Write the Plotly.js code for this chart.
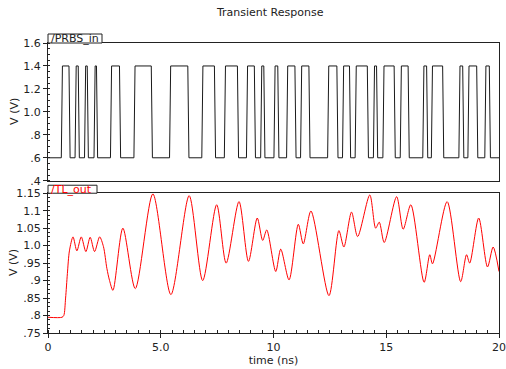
<!DOCTYPE html>
<html><head>
<script src="https://cdn.plot.ly/plotly-3.0.1.min.js"></script>
<style>body{margin:0;background:#fff}</style>
</head><body>
<div id="c" style="width:506px;height:369px"></div>
<script>
// PRBS input: high pulses (rise time, fall time) in ns
const prbsRise = [0.59, 1.20, 1.62, 2.04, 2.77, 3.81, 5.39, 6.82, 7.82, 8.80, 9.43, 10.02, 10.58, 11.20, 12.40, 13.06, 13.62, 14.43, 14.85, 15.62, 16.62, 17.00, 18.22, 18.62, 19.37];
const prbsFall = [0.98, 1.39, 1.79, 2.20, 3.22, 4.63, 6.25, 7.43, 8.45, 9.20, 9.62, 10.24, 11.00, 11.62, 12.86, 13.42, 14.21, 14.62, 15.40, 16.02, 16.84, 17.55, 18.44, 19.06, 19.62];
const lowV = 0.6, highV = 1.4, edge = 0.05;

// TL output waveform
const outTime = [0, 0.62, 0.70, 0.78, 0.86, 0.95, 1.11, 1.28, 1.475, 1.68, 1.87, 2.065, 2.29, 2.46, 2.61, 2.73, 2.88, 3.32, 3.87, 4.65, 5.45, 6.26, 6.86, 7.48, 7.90, 8.47, 8.89, 9.28, 9.52, 9.70, 10.10, 10.32, 10.69, 11.10, 11.32, 11.66, 12.46, 12.90, 13.12, 13.46, 13.73, 14.27, 14.53, 14.69, 14.91, 15.46, 15.75, 16.09, 16.68, 16.93, 17.05, 17.70, 18.30, 18.56, 18.70, 19.10, 19.49, 19.74, 20.0];
const outVolt = [0.795, 0.795, 0.80, 0.85, 0.92, 0.985, 1.025, 0.985, 1.025, 0.983, 1.024, 0.983, 1.025, 0.997, 0.935, 0.90, 0.872, 1.05, 0.877, 1.148, 0.860, 1.143, 0.900, 1.117, 0.950, 1.126, 0.955, 1.079, 1.015, 1.045, 0.926, 0.99, 0.902, 1.061, 1.005, 1.099, 0.857, 1.043, 0.996, 1.096, 1.026, 1.145, 1.05, 1.067, 1.009, 1.14, 1.047, 1.117, 0.895, 0.974, 0.948, 1.126, 0.897, 0.974, 0.95, 1.079, 0.939, 0.996, 0.926];

const xTickVals = [0, 5, 10, 15, 20];
const xTickText = ['0', '5.0', '10', '15', '20'];
const topTickVals = [0.4, 0.6, 0.8, 1.0, 1.2, 1.4, 1.6];
const topTickText = ['.4', '.6', '.8', '1.0', '1.2', '1.4', '1.6'];
const botTickVals = [0.75, 0.8, 0.85, 0.9, 0.95, 1.0, 1.05, 1.1, 1.15];
const botTickText = ['.75', '.8', '.85', '.9', '.95', '1.0', '1.05', '1.1', '1.15'];

// build PWL for PRBS
const pt = [0], pv = [lowV];
for (let i = 0; i < prbsRise.length; i++) {
  pt.push(prbsRise[i]); pv.push(lowV);
  pt.push(prbsRise[i] + edge); pv.push(highV);
  pt.push(prbsFall[i] - edge); pv.push(highV);
  pt.push(prbsFall[i]); pv.push(lowV);
}
pt.push(20); pv.push(lowV);

const axCol = '#222';
const data = [
  {x: pt, y: pv, xaxis: 'x2', yaxis: 'y2', mode: 'lines', line: {color: '#1a1a1a', width: 1}, hoverinfo: 'skip'},
  {x: outTime, y: outVolt, xaxis: 'x', yaxis: 'y', mode: 'lines', line: {color: '#ff0000', width: 1, shape: 'spline', smoothing: 0.8}, hoverinfo: 'skip'}
];

const common = {showline: true, mirror: true, linecolor: axCol, linewidth: 1, showgrid: false, zeroline: false};
const layout = {
  width: 506, height: 369,
  margin: {l: 48, r: 7, t: 43, b: 36},
  paper_bgcolor: '#fff', plot_bgcolor: '#fff', showlegend: false,
  font: {family: 'DejaVu Sans', size: 11, color: '#222'},
  title: {text: 'Transient Response', xref: 'container', x: 0.534, xanchor: 'center', yref: 'container', y: 0.966, yanchor: 'middle', font: {size: 11, color: '#222'}},
  xaxis: Object.assign({}, common, {anchor: 'y', domain: [0, 1], range: [0, 20], tickvals: xTickVals, ticktext: xTickText, ticks: 'outside', ticklen: 4, tickcolor: axCol,
    minor: {ticks: 'inside', dtick: 0.5, ticklen: 3, tickcolor: axCol, showgrid: false},
    title: {text: 'time (ns)', standoff: 2, font: {size: 11}}}),
  xaxis2: Object.assign({}, common, {anchor: 'y2', domain: [0, 1], range: [0, 20], matches: 'x', showticklabels: false, ticks: ''}),
  yaxis: Object.assign({}, common, {anchor: 'x', domain: [0, 0.482], range: [0.75, 1.15], tickvals: botTickVals, ticktext: botTickText, ticks: 'outside', ticklen: 4, tickcolor: axCol,
    minor: {ticks: 'inside', dtick: 0.0125, ticklen: 2, tickcolor: axCol, showgrid: false}}),
  yaxis2: Object.assign({}, common, {anchor: 'x2', domain: [0.525, 1], range: [0.4, 1.6], tickvals: topTickVals, ticktext: topTickText, ticks: 'outside', ticklen: 4, tickcolor: axCol,
    minor: {ticks: 'inside', dtick: 0.05, ticklen: 2, tickcolor: axCol, showgrid: false}}),
  shapes: [
    {type: 'rect', xref: 'paper', xsizemode: 'pixel', xanchor: 0, x0: 0, x1: 54, yref: 'y2 domain', ysizemode: 'pixel', yanchor: 1, y0: 0, y1: 9, line: {color: axCol, width: 1}, fillcolor: '#fff', layer: 'above'},
    {type: 'rect', xref: 'paper', xsizemode: 'pixel', xanchor: 0, x0: 0, x1: 49, yref: 'y domain', ysizemode: 'pixel', yanchor: 1, y0: 0, y1: 8, line: {color: axCol, width: 1}, fillcolor: '#fff', layer: 'above'}
  ],
  annotations: [
    {text: '/PRBS_in', xref: 'paper', x: 0, xanchor: 'left', xshift: 1, yref: 'y2 domain', y: 1, yanchor: 'middle', yshift: 5, showarrow: false, font: {size: 11, color: '#222'}},
    {text: '/TL_out', xref: 'paper', x: 0, xanchor: 'left', xshift: 1, yref: 'y domain', y: 1, yanchor: 'middle', yshift: 4, showarrow: false, font: {size: 11, color: '#ff0000'}},
    {text: 'V (V)', textangle: -90, xref: 'paper', x: 0, xanchor: 'center', xshift: -33, yref: 'y2 domain', y: 0.5, yanchor: 'middle', showarrow: false, font: {size: 11, color: '#222'}},
    {text: 'V (V)', textangle: -90, xref: 'paper', x: 0, xanchor: 'center', xshift: -35, yref: 'y domain', y: 0.5, yanchor: 'middle', showarrow: false, font: {size: 11, color: '#222'}}
  ]
};
Plotly.newPlot('c', data, layout, {staticPlot: true, displayModeBar: false});
</script>
</body></html>
